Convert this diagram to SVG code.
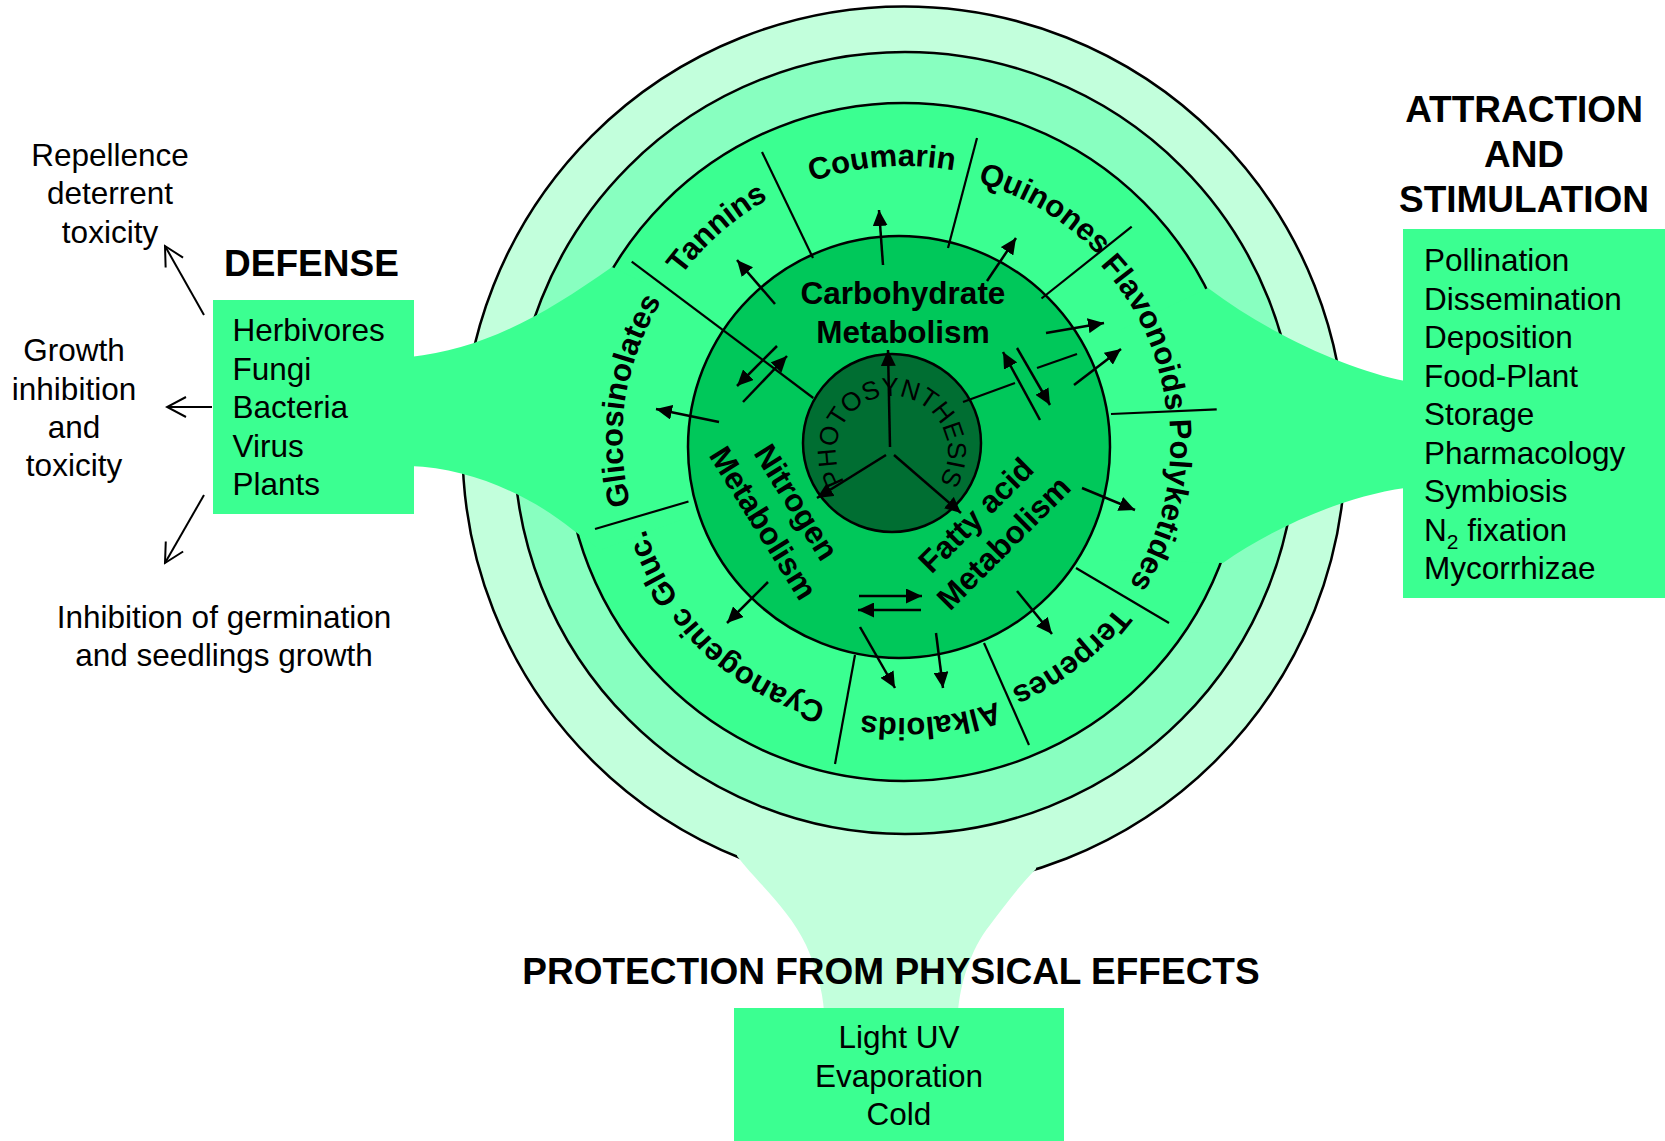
<svg xmlns="http://www.w3.org/2000/svg" width="1665" height="1141" viewBox="0 0 1665 1141">
<defs>
<style>
.t{font-family:"Liberation Sans",Arial,sans-serif;fill:#000}
.b{font-weight:bold}
.s31{font-size:31.5px}
.s37{font-size:37px}
.bt{font-family:"Liberation Sans",Arial,sans-serif;font-weight:bold;font-size:31px;fill:#000}
.ln{stroke:#000;stroke-width:2.2;fill:none}
.ar{stroke:#000;stroke-width:2.5;fill:none;marker-end:url(#ah)}
.av{stroke:#000;stroke-width:2;fill:none;marker-end:url(#av)}
.g1{fill:#c2ffdc}
.g2{fill:#88ffc0}
.g3{fill:#3bff91}
</style>
<marker id="ah" markerUnits="userSpaceOnUse" markerWidth="16" markerHeight="15" viewBox="0 0 16 15" refX="16" refY="7.5" orient="auto"><path d="M0,0 L16,7.5 L0,15 Z" fill="#000"/></marker>
<marker id="av" markerUnits="userSpaceOnUse" markerWidth="24" markerHeight="24" viewBox="-22 -12 24 24" refX="0" refY="0" orient="auto"><path d="M-19,-10 L0,0 L-19,10" fill="none" stroke="#000" stroke-width="2"/></marker>
<path id="pTan" d="M1087.1,651.2 A278,278 0 0 1 720.9,232.8 A278,278 0 0 1 1087.1,651.2"/>
<path id="pCou" d="M925.7,717.2 A276,276 0 0 1 882.3,166.8 A276,276 0 0 1 925.7,717.2"/>
<path id="pQui" d="M764.9,673.4 A270,270 0 0 1 1043.1,210.6 A270,270 0 0 1 764.9,673.4"/>
<path id="pFla" d="M662.7,551.5 A265,265 0 0 1 1145.3,332.5 A265,265 0 0 1 662.7,551.5"/>
<path id="pPol" d="M644.6,378.8 A267,267 0 0 1 1163.4,505.2 A267,267 0 0 1 644.6,378.8"/>
<path id="pTer" d="M739.1,229.4 A269,269 0 0 1 1068.9,654.6 A269,269 0 0 1 739.1,229.4"/>
<path id="pAlk" d="M878,167.2 A276,276 0 0 1 930,716.8 A276,276 0 0 1 878,167.2"/>
<path id="pCya" d="M1095,244.2 A275,275 0 0 1 713,639.8 A275,275 0 0 1 1095,244.2"/>
<path id="pGli" d="M1182.8,484.2 A282,282 0 0 1 625.2,399.8 A282,282 0 0 1 1182.8,484.2"/>
<path id="pPho" d="M892,508 A56,56 0 0 1 892,396 A56,56 0 0 1 892,508"/>
</defs>
<rect width="1665" height="1141" fill="#fff"/>

<g id="rings">
<circle cx="904" cy="448" r="441.5" class="g1" stroke="#000" stroke-width="2.5"/>
<path id="funnel-bottom" class="g1" d="M740,800 L737,856 C755,880 790,910 806,945 C815,965 823,990 824,1012 L958,1012 C960,985 970,950 990,925 C1005,905 1020,885 1036,869 L1040,800 Z"/>
<circle cx="905" cy="443" r="391" class="g2" stroke="#000" stroke-width="2.5"/>
<circle cx="904" cy="442" r="339" class="g3" stroke="#000" stroke-width="2.5"/>
<path id="funnel-left" class="g3" d="M405,357 L410,357 C480,350 540,318 612,267 L680,300 L680,520 L600,550 L573,530 C530,495 470,468 410,466 L405,466 Z"/>
<path id="funnel-right" class="g3" d="M1410,381 L1405,381 C1350,370 1270,335 1208,288 L1120,330 L1120,560 L1223,563 C1270,530 1340,497 1405,488 L1410,488 Z"/>
</g>

<g id="metabolism">
<circle cx="899" cy="447" r="211" fill="#00c85a" stroke="#000" stroke-width="2.5"/>
</g>
<g id="photosynthesis">
<circle cx="892" cy="443" r="89" fill="#006e32" stroke="#000" stroke-width="2.5"/>
<text class="t" font-size="26"><textPath href="#pPho" startOffset="50%" text-anchor="middle">PHOTOSYNTHESIS</textPath></text>
</g>

<g id="connectors">
<line class="ln" x1="762" y1="152" x2="813" y2="258"/>
<line class="ln" x1="977" y1="138" x2="948" y2="248"/>
<line class="ln" x1="1131.7" y1="226.7" x2="1041.5" y2="298.5"/>
<line class="ln" x1="1216.7" y1="409.3" x2="1111" y2="414"/>
<line class="ln" x1="1076" y1="568" x2="1169" y2="623"/>
<line class="ln" x1="984" y1="643" x2="1029" y2="745"/>
<line class="ln" x1="855" y1="655" x2="835" y2="764"/>
<line class="ln" x1="688.5" y1="501.5" x2="595" y2="529"/>
<line class="ln" x1="631.7" y1="261.7" x2="813.3" y2="398"/>
<line class="ln" x1="963" y1="402" x2="1015" y2="383"/>
<line class="ln" x1="1037" y1="368" x2="1077" y2="354"/>

<line class="ar" x1="890" y1="447" x2="888" y2="350"/>
<line class="ar" x1="886" y1="455" x2="817" y2="498"/>
<line class="ar" x1="894" y1="455" x2="961" y2="513"/>
<line class="ar" x1="883" y1="265" x2="879" y2="210"/>
<line class="ar" x1="987" y1="281" x2="1016" y2="238"/>
<line class="ar" x1="775" y1="304" x2="737" y2="260"/>
<line class="ar" x1="777" y1="346" x2="737" y2="386"/>
<line class="ar" x1="743" y1="402" x2="787" y2="356"/>
<line class="ar" x1="719" y1="422" x2="656" y2="409"/>
<line class="ar" x1="1046" y1="333" x2="1104" y2="323"/>
<line class="ar" x1="1074" y1="385" x2="1121" y2="349"/>
<line class="ar" x1="1040" y1="420" x2="1003" y2="352"/>
<line class="ar" x1="1017" y1="348" x2="1050" y2="405"/>
<line class="ar" x1="1082" y1="488" x2="1135" y2="510"/>
<line class="ar" x1="1017" y1="591" x2="1052" y2="634"/>
<line class="ar" x1="860" y1="627" x2="895" y2="688"/>
<line class="ar" x1="936" y1="633" x2="943" y2="688"/>
<line class="ar" x1="859" y1="596" x2="922" y2="596"/>
<line class="ar" x1="921" y1="610" x2="858" y2="610"/>
<line class="ar" x1="768" y1="582" x2="727" y2="623"/>

<line class="av" x1="204" y1="315" x2="165" y2="246"/>
<line class="av" x1="212" y1="407" x2="167" y2="407"/>
<line class="av" x1="204" y1="495" x2="165" y2="563"/>
</g>

<g id="band-labels">
<text class="bt"><textPath href="#pTan" startOffset="50%" text-anchor="middle">Tannins</textPath></text>
<text class="bt"><textPath href="#pCou" startOffset="50%" text-anchor="middle">Coumarin</textPath></text>
<text class="bt"><textPath href="#pQui" startOffset="50%" text-anchor="middle">Quinones</textPath></text>
<text class="bt"><textPath href="#pFla" startOffset="50%" text-anchor="middle">Flavonoids</textPath></text>
<text class="bt"><textPath href="#pPol" startOffset="50%" text-anchor="middle">Polyketides</textPath></text>
<text class="bt"><textPath href="#pTer" startOffset="50%" text-anchor="middle">Terpenes</textPath></text>
<text class="bt"><textPath href="#pAlk" startOffset="50%" text-anchor="middle">Alkaloids</textPath></text>
<text class="bt"><textPath href="#pCya" startOffset="50%" text-anchor="middle">Cyanogenic Gluc.</textPath></text>
<text class="bt"><textPath href="#pGli" startOffset="50%" text-anchor="middle">Glicosinolates</textPath></text>
</g>

<g id="carbohydrate">
<text class="t b s31" text-anchor="middle" x="903" y="304">Carbohydrate</text>
<text class="t b s31" text-anchor="middle" x="903" y="343">Metabolism</text>
</g>
<g id="nitrogen" transform="translate(780,512.5) rotate(58)">
<text class="t b s31" text-anchor="middle" x="0" y="-8.5">Nitrogen</text>
<text class="t b s31" text-anchor="middle" x="0" y="30.5">Metabolism</text>
</g>
<g id="fatty-acid" transform="translate(989.6,528.8) rotate(-45)">
<text class="t b s31" text-anchor="middle" x="0" y="-8.5">Fatty acid</text>
<text class="t b s31" text-anchor="middle" x="0" y="30.5">Metabolism</text>
</g>

<g id="defense">
<text class="t b s37" text-anchor="middle" x="311.5" y="276">DEFENSE</text>
<rect x="213" y="300" width="201" height="214" class="g3"/>
<text class="t s31" x="232.5" y="341">Herbivores</text>
<text class="t s31" x="232.5" y="379.5">Fungi</text>
<text class="t s31" x="232.5" y="418">Bacteria</text>
<text class="t s31" x="232.5" y="456.5">Virus</text>
<text class="t s31" x="232.5" y="495">Plants</text>
</g>

<g id="effect-repellence">
<text class="t s31" text-anchor="middle" x="110" y="166">Repellence</text>
<text class="t s31" text-anchor="middle" x="110" y="204">deterrent</text>
<text class="t s31" text-anchor="middle" x="110" y="243">toxicity</text>
</g>
<g id="effect-growth">
<text class="t s31" text-anchor="middle" x="74" y="361">Growth</text>
<text class="t s31" text-anchor="middle" x="74" y="400">inhibition</text>
<text class="t s31" text-anchor="middle" x="74" y="438">and</text>
<text class="t s31" text-anchor="middle" x="74" y="476">toxicity</text>
</g>
<g id="effect-germination">
<text class="t s31" text-anchor="middle" x="224" y="628">Inhibition of germination</text>
<text class="t s31" text-anchor="middle" x="224" y="666">and seedlings growth</text>
</g>

<g id="attraction">
<text class="t b s37" text-anchor="middle" x="1524" y="122">ATTRACTION</text>
<text class="t b s37" text-anchor="middle" x="1524" y="167">AND</text>
<text class="t b s37" text-anchor="middle" x="1524" y="212">STIMULATION</text>
<rect x="1403" y="229" width="262" height="369" class="g3"/>
<text class="t s31" x="1424" y="271">Pollination</text>
<text class="t s31" x="1424" y="309.5">Dissemination</text>
<text class="t s31" x="1424" y="348">Deposition</text>
<text class="t s31" x="1424" y="386.5">Food-Plant</text>
<text class="t s31" x="1424" y="425">Storage</text>
<text class="t s31" x="1424" y="463.5">Pharmacology</text>
<text class="t s31" x="1424" y="502">Symbiosis</text>
<text class="t s31" x="1424" y="540.5">N<tspan font-size="21" dy="8">2</tspan><tspan dy="-8"> fixation</tspan></text>
<text class="t s31" x="1424" y="579">Mycorrhizae</text>
</g>

<g id="protection">
<text class="t b s37" text-anchor="middle" x="891" y="984">PROTECTION FROM PHYSICAL EFFECTS</text>
<rect x="734" y="1008" width="330" height="133" class="g3"/>
<text class="t s31" text-anchor="middle" x="899" y="1048">Light UV</text>
<text class="t s31" text-anchor="middle" x="899" y="1087">Evaporation</text>
<text class="t s31" text-anchor="middle" x="899" y="1125">Cold</text>
</g>
</svg>
